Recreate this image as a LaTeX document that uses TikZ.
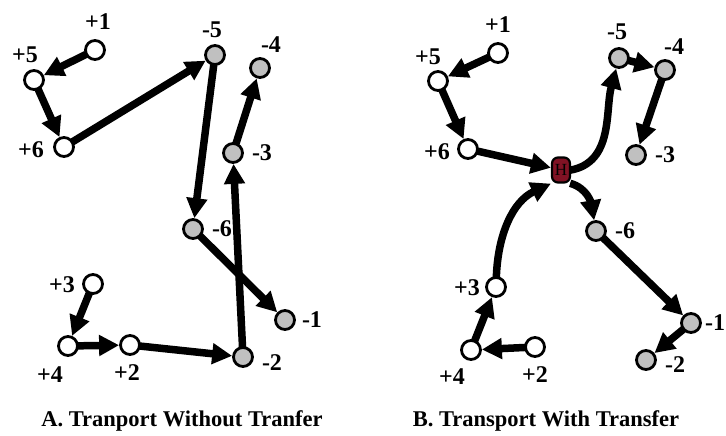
\documentclass[tikz,border=0pt]{standalone}
\usepackage{fontspec}
\setmainfont{Liberation Serif}
\usetikzlibrary{arrows.meta}
\definecolor{stopgray}{RGB}{192,192,192}
\definecolor{hubred}{RGB}{128,18,36}
\tikzset{
  pick/.style={circle,draw=black,line width=2.8pt,fill=white,minimum size=19pt,inner sep=0pt},
  drop/.style={pick,fill=stopgray},
  hub/.style={rounded corners=6pt,draw=black,line width=2.2pt,fill=hubred,minimum width=18pt,minimum height=25pt,inner sep=0pt,font=\fontsize{17}{17}\selectfont},
  lab/.style={font=\fontsize{24}{24}\selectfont\bfseries,inner sep=0pt},
  captiontext/.style={font=\fontsize{22.5}{22.5}\selectfont\bfseries,inner sep=0pt},
  route/.style={line width=7.5pt,-{Triangle[length=20pt,width=20pt]},shorten >=0pt,shorten <=-1pt}
}
\begin{document}
\begin{tikzpicture}[x=1pt,y=-1pt]
\useasboundingbox (0,0) rectangle (726,436);

% ---------- A: transport without transfer ----------
\node[pick] (a1) at (95,50) {};
\node[pick] (a5) at (34,80) {};
\node[pick] (a6) at (64,147) {};
\node[drop] (am5) at (215,55) {};
\node[drop] (am4) at (260,68) {};
\node[drop] (am3) at (233,153) {};
\node[drop] (am6) at (193,229) {};
\node[pick] (a3) at (93,284) {};
\node[pick] (a4) at (68,346) {};
\node[pick] (a2) at (130,345) {};
\node[drop] (am2) at (243,357) {};
\node[drop] (am1) at (285,320) {};

\node[lab] (la1) at (98,22) {+1};
\node[lab] (la5) at (25,55) {+5};
\node[lab] (la6) at (31,150) {+6};
\node[lab] (lam5) at (212,30) {-5};
\node[lab] (lam4) at (271,45) {-4};
\node[lab] (lam3) at (262,153) {-3};
\node[lab] (lam6) at (222,229) {-6};
\node[lab] (la3) at (62,285) {+3};
\node[lab] (la4) at (50,375) {+4};
\node[lab] (la2) at (127,373) {+2};
\node[lab] (lam2) at (272,363) {-2};
\node[lab] (lam1) at (312,320) {-1};

\draw[route] (a1) -- (a5);
\draw[route] (a5) -- (a6);
\draw[route] (a6) -- (am5);
\draw[route] (am5) -- (am6);
\draw[route] (am6) -- (am1);
\draw[route] (a3) -- (a4);
\draw[route] (a4) -- (a2);
\draw[route] (a2) -- (am2);
\draw[route] (am2) -- (am3);
\draw[route] (am3) -- (am4);

\node[captiontext] (capA) at (182,421) {A. Tranport Without Tranfer};

% ---------- B: transport with transfer ----------
\node[pick] (b1) at (498,53) {};
\node[pick] (b5) at (438,81) {};
\node[pick] (b6) at (468,149) {};
\node[drop] (bm5) at (619,58) {};
\node[drop] (bm4) at (665,70) {};
\node[drop] (bm3) at (636,155) {};
\node[drop] (bm6) at (596,231) {};
\node[pick] (b3) at (496,287) {};
\node[pick] (b4) at (471,350) {};
\node[pick] (b2) at (535,347) {};
\node[drop] (bm1) at (691,323) {};
\node[drop] (bm2) at (646,360) {};
\node[hub] (hub) at (561,170) {H};

\node[lab] (lb1) at (498,25) {+1};
\node[lab] (lb5) at (428,57) {+5};
\node[lab] (lb6) at (437,152) {+6};
\node[lab] (lbm5) at (617,32) {-5};
\node[lab] (lbm4) at (674,47) {-4};
\node[lab] (lbm3) at (665,155) {-3};
\node[lab] (lbm6) at (625,231) {-6};
\node[lab] (lb3) at (467,288) {+3};
\node[lab] (lb4) at (452,377) {+4};
\node[lab] (lb2) at (535,375) {+2};
\node[lab] (lbm1) at (715,323) {-1};
\node[lab] (lbm2) at (675,365) {-2};

\draw[route] (b1) -- (b5);
\draw[route] (b5) -- (b6);
\draw[route] (b6) -- (hub);
\draw[route] (hub.east) to[out=10,in=-105] (bm5);
\draw[route] (bm5) -- (bm4);
\draw[route] (bm4) -- (bm3);
\draw[route] (hub.south east) to[out=-15,in=100] (bm6);
\draw[route] (bm6) -- (bm1);
\draw[route] (bm1) -- (bm2);
\draw[route] (b2) -- (b4);
\draw[route] (b4) -- (b3);
\draw[route] (b3) to[out=88,in=205] (hub.south west);

\node[captiontext] (capB) at (546,421) {B. Transport With Transfer};
\end{tikzpicture}
\end{document}
